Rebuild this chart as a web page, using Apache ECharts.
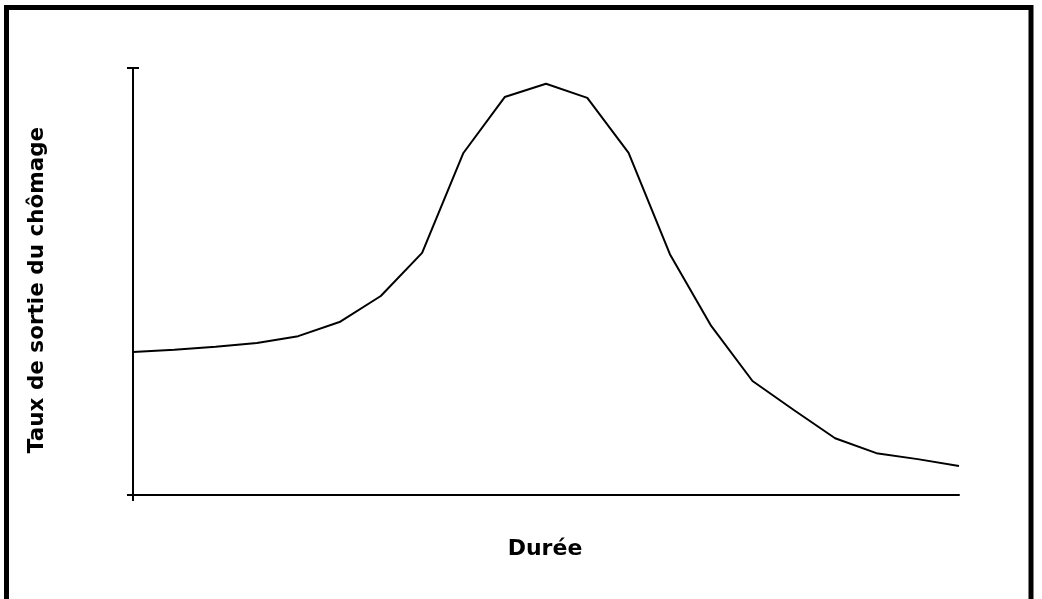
<!DOCTYPE html>
<html>
<head>
<meta charset="utf-8">
<script src="https://cdn.jsdelivr.net/npm/echarts@6/dist/echarts.min.js"></script>
<style>
  html, body { margin: 0; padding: 0; background: #fff; }
  #main { width: 1042px; height: 599px; }
</style>
</head>
<body>
<div id="main"></div>
<script>
// durée (périodes) et taux de sortie (unités arbitraires, 0-100)
const durees = ['1','2','3','4','5','6','7','8','9','10','11','12','13','14','15','16','17','18','19','20','21'];
const tauxSortie = [33.5, 34.0, 34.7, 35.6, 37.2, 40.5, 46.6, 56.7, 80.1, 93.2, 96.3, 93.0, 80.1, 56.4, 39.6, 26.7, 19.9, 13.3, 9.8, 8.4, 6.8];

const chart = echarts.init(document.getElementById('main'), null, { renderer: 'canvas' });

const option = {
  backgroundColor: '#ffffff',
  animation: false,
  grid: { left: 133, right: 83, top: 68, bottom: 104 },
  xAxis: {
    type: 'category',
    data: durees,
    boundaryGap: false,
    axisLine: { lineStyle: { color: '#000', width: 2 } },
    axisTick: { show: true, length: 6, interval: function (i) { return i === 0; }, lineStyle: { color: '#000', width: 2 } },
    axisLabel: { show: false },
    splitLine: { show: false }
  },
  yAxis: [{
    type: 'value',
    min: 0,
    max: 100,
    interval: 100,
    axisLine: { show: true, lineStyle: { color: '#000', width: 2 } },
    axisTick: { show: true, length: 6, lineStyle: { color: '#000', width: 2 } },
    axisLabel: { show: false },
    splitLine: { show: false }
  }, {
    // ticks à l'intérieur pour le haut de l'axe
    type: 'value',
    position: 'left',
    min: 0,
    max: 100,
    interval: 100,
    axisLine: { show: false },
    axisTick: { show: true, inside: true, length: 6, interval: function (i) { return i === 1; }, lineStyle: { color: '#000', width: 2 } },
    axisLabel: { show: false },
    splitLine: { show: false }
  }],
  series: [{
    type: 'line',
    data: tauxSortie,
    showSymbol: false,
    lineStyle: { color: '#000', width: 2 },
    itemStyle: { color: '#000' }
  }],
  graphic: [{
    type: 'rect',
    shape: { x: 6.5, y: 7.5, width: 1024.5, height: 600 },
    style: { fill: null, stroke: '#000', lineWidth: 5 },
    silent: true
  }, {
    type: 'text',
    x: 37,
    y: 290,
    rotation: Math.PI / 2,
    style: {
      text: 'Taux de sortie du chômage',
      font: 'bold 21.5px "DejaVu Sans"',
      fill: '#000',
      align: 'center',
      verticalAlign: 'middle'
    }
  }, {
    type: 'text',
    x: 545,
    y: 549,
    style: {
      text: 'Durée',
      font: 'bold 22px "DejaVu Sans"',
      fill: '#000',
      align: 'center',
      verticalAlign: 'middle'
    }
  }]
};

chart.setOption(option);
</script>
</body>
</html>
